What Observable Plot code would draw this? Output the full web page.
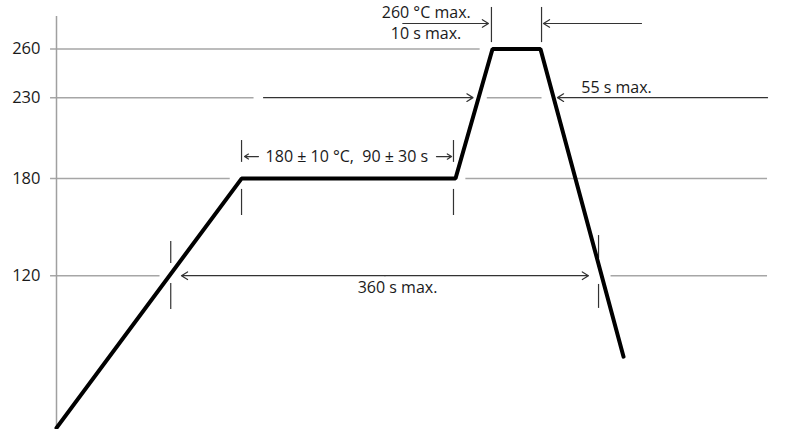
<!DOCTYPE html>
<html>
<head>
<meta charset="utf-8">
<script src="https://cdn.jsdelivr.net/npm/d3@7"></script>
<script src="https://cdn.jsdelivr.net/npm/@observablehq/plot@0.6"></script>
<style>
  html, body { margin: 0; padding: 0; background: #fff; }
</style>
</head>
<body>
<div id="chart"></div>
<script>
// Temperature ticks (°C)
const tempTicks = [260, 230, 180, 120];

// Reflow profile (schematic time in s, temperature in °C)
const profileTime = [0, 155.5, 335.3, 366.4, 406.7, 476.5];
const profileTemp = [26, 180, 180, 260, 260, 70];

// Grid line segments (broken around the annotations)
const gridTemp  = [260, 230, 230, 180, 180, 120, 120];
const gridStart = [-5, -5, 362, -5, 344, -5, 466];
const gridEnd   = [356, 166, 408, 146, 597.5, 87, 597.5];

// Dimension arrows
const arrowT1 = [174, 597.5, 276, 276, 291, 491.6, 169.7, 319.3];
const arrowT2 = [350, 421, 105, 447, 363, 409.2, 158, 332];
const arrowTemp = [230, 230, 120, 120, 275.8, 275.8, 193.6, 193.6];

// Vertical marker ticks
const markTime = [96, 96, 155.5, 155.5, 333.6, 333.6, 455.5, 455.5, 365.5, 407.6];
const markLow  = [127.6, 99.1, 190, 157.2, 190, 157.2, 130.6, 99.8, 264, 264];
const markHigh = [141.1, 115.2, 203.5, 173.3, 203.5, 173.3, 144.8, 114.6, 285.7, 285.7];

// Labels
const labelText = ["260 °C max.", "10 s max.", "55 s max.", "180 ± 10 °C,  90 ± 30 s", "360 s max."];
const labelTime = [310.7, 310.5, 470.6, 244, 286.6];
const labelTemp = [282.6, 269.4, 236.3, 193.6, 112.7];

const profile = profileTime.map((t, i) => ({t, temp: profileTemp[i]}));
const grid = gridTemp.map((v, i) => ({temp: v, x1: gridStart[i], x2: gridEnd[i]}));
const arrows = arrowT1.map((v, i) => ({x1: v, x2: arrowT2[i], y: arrowTemp[i]}));
const marks = markTime.map((t, i) => ({t, y1: markLow[i], y2: markHigh[i]}));
const labels = labelText.map((s, i) => ({s, t: labelTime[i], temp: labelTemp[i]}));

const font = "'Open Sans', 'DejaVu Sans', sans-serif";
const chart = Plot.plot({
  width: 787,
  height: 429,
  marginLeft: 56,
  marginRight: 17,
  marginTop: 0,
  marginBottom: 0,
  style: {fontFamily: font, fontSize: "16.5px", color: "#1a1a1a", background: "#fff"},
  x: {domain: [0, 600], axis: null},
  y: {domain: [25, 290], ticks: tempTicks, label: null},
  marks: [
    Plot.axisY({ticks: tempTicks, tickSize: 0, tickPadding: 16, fontSize: 16.5, fill: "#1a1a1a", label: null}),
    Plot.ruleY(grid, {y: "temp", x1: "x1", x2: "x2", stroke: "#a6a6a6", strokeWidth: 1.5}),
    Plot.ruleX([0], {y1: 25, y2: 280.1, stroke: "#a0a0a0", strokeWidth: 1.5}),
    Plot.ruleX(marks, {x: "t", y1: "y1", y2: "y2", stroke: "#333", strokeWidth: 1.2}),
    Plot.arrow(arrows, {x1: "x1", x2: "x2", y1: "y", y2: "y", stroke: "#333", strokeWidth: 1.2, headLength: 9, headAngle: 64}),
    Plot.line(profile, {x: "t", y: "temp", stroke: "#000", strokeWidth: 4, strokeLinejoin: "miter", strokeLinecap: "round"}),
    Plot.text(labels, {x: "t", y: "temp", text: "s", fontSize: 16, fill: "#1a1a1a", fontFamily: font})
  ]
});
document.getElementById("chart").appendChild(chart);
</script>
</body>
</html>
